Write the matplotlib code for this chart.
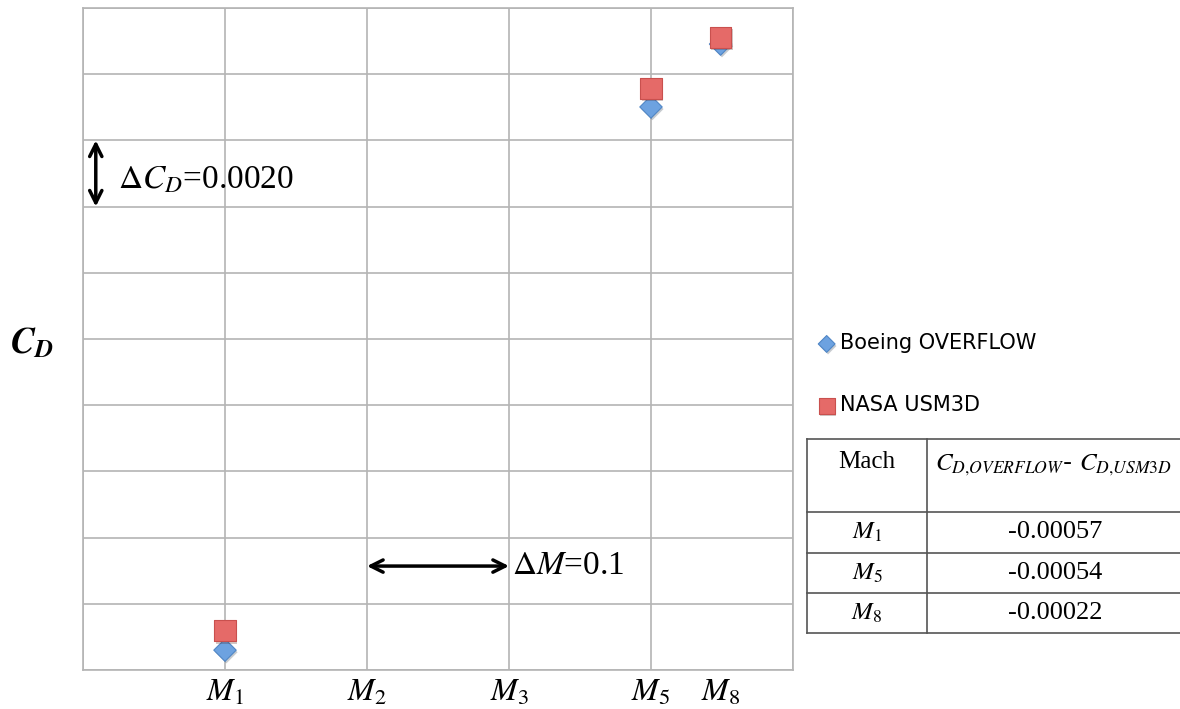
import numpy as np
from matplotlib import pyplot as plt
from matplotlib.lines import Line2D
import matplotlib.patheffects as pe

plt.rcParams['mathtext.fontset'] = 'stix'
plt.rcParams['font.family'] = 'DejaVu Sans'
SERIF = 'Liberation Serif'

# Mach stations, in grid units of dM = 0.1
mach_labels = [r'$M_1$', r'$M_2$', r'$M_3$', r'$M_5$', r'$M_8$']
mach_pos = [1.0, 2.0, 3.0, 4.0, 4.49]

# drag coefficient relative to bottom of chart (grid step dCD = 0.0020)
boeing_x = [1.0, 4.0, 4.49]
boeing_cd = [0.00060, 0.01701, 0.01891]
nasa_x = [1.0, 4.0, 4.49]
nasa_cd = [0.00118, 0.01758, 0.01912]

# table of differences
table_mach = [r'$M_1$', r'$M_5$', r'$M_8$']
table_diff = ['-0.00057', '-0.00054', '-0.00022']

W, H = 1180, 709


def px(x, y):
    # pixel position -> figure fraction
    return x / W, 1 - y / H


fig = plt.figure(figsize=(W / 100, H / 100), dpi=100)
ax = fig.add_axes([83 / W, 1 - 670 / H, (793 - 83) / W, (670 - 8) / H])

ax.set_xlim(0, 5)
ax.set_ylim(0, 0.020)
ax.set_xticks(np.arange(0, 6, 1))
ax.set_yticks(np.arange(0, 0.0201, 0.002))
ax.grid(True, color='#b4b4b4', lw=1.2)
ax.set_axisbelow(True)
ax.tick_params(length=0, labelleft=False, labelbottom=False)
for s in ax.spines.values():
    s.set_color('#b4b4b4')
    s.set_linewidth(1.2)

# Mach labels under the axis
for lab, xp in zip(mach_labels, mach_pos):
    ax.text(xp, -0.0002, lab, ha='center', va='top', fontsize=23)

shadow = [pe.SimplePatchShadow(offset=(1, -1.5), alpha=0.25), pe.Normal()]
ax.scatter(boeing_x, boeing_cd, marker='D', s=130, color='#6da2e0',
           edgecolor='#4f86c6', lw=0.8, zorder=3, label='Boeing OVERFLOW',
           path_effects=shadow)
ax.scatter(nasa_x, nasa_cd, marker='s', s=230, color='#e56a68',
           edgecolor='#c9504e', lw=0.8, zorder=4, label='NASA USM3D',
           path_effects=shadow)

# scale arrows
ax.annotate('', xy=(0.09, 0.0140), xytext=(0.09, 0.0160),
            arrowprops=dict(arrowstyle='<->', lw=2.5, color='black',
                            mutation_scale=22, shrinkA=0, shrinkB=0))
ax.text(0.25, 0.0148, r'$\Delta C_D$=0.0020', fontsize=24, va='center',
        ha='left', family=SERIF)
ax.annotate('', xy=(2.0, 0.00314), xytext=(3.0, 0.00314),
            arrowprops=dict(arrowstyle='<->', lw=2.5, color='black',
                            mutation_scale=22, shrinkA=0, shrinkB=0))
ax.text(3.02, 0.00314, r'$\Delta M$=0.1', fontsize=24, va='center',
        ha='left', family=SERIF)

# C_D label
fig.text(*px(10, 343), r'$\mathbfit{C}_{\mathbfit{D}}$', fontsize=26,
         va='center', ha='left')

# legend
leg = ax.legend(loc='upper left', bbox_to_anchor=px(810, 323),
                bbox_transform=fig.transFigure, frameon=False, fontsize=15,
                labelspacing=2.0, handlelength=0.6, handletextpad=0.35,
                borderpad=0, markerscale=0.75)

# table on the right, drawn with lines
tx0, tx1, tx2 = 807, 927, 1180
ty = [439, 512, 553, 593, 633]
for y in ty:
    fig.add_artist(Line2D([tx0 / W, tx2 / W], [1 - y / H, 1 - y / H],
                          color='#555555', lw=1.2))
for x in [tx0, tx1]:
    fig.add_artist(Line2D([x / W, x / W], [1 - ty[0] / H, 1 - ty[-1] / H],
                          color='#555555', lw=1.2))

fig.text(*px(867, 462), 'Mach', fontsize=18, family=SERIF,
         ha='center', va='center')
fig.text(*px(935, 465), r'$C_{D{,}OVERFLOW}$- $C_{D{,}USM3D}$', fontsize=18,
         ha='left', va='center')
for i, (m, d) in enumerate(zip(table_mach, table_diff)):
    yc = (ty[i + 1] + ty[i + 2]) / 2
    fig.text(*px(867, yc), m, fontsize=18, ha='center', va='center')
    fig.text(*px(1055, yc), d, fontsize=19, family=SERIF,
             ha='center', va='center')

fig.savefig('out.png', dpi=100)
